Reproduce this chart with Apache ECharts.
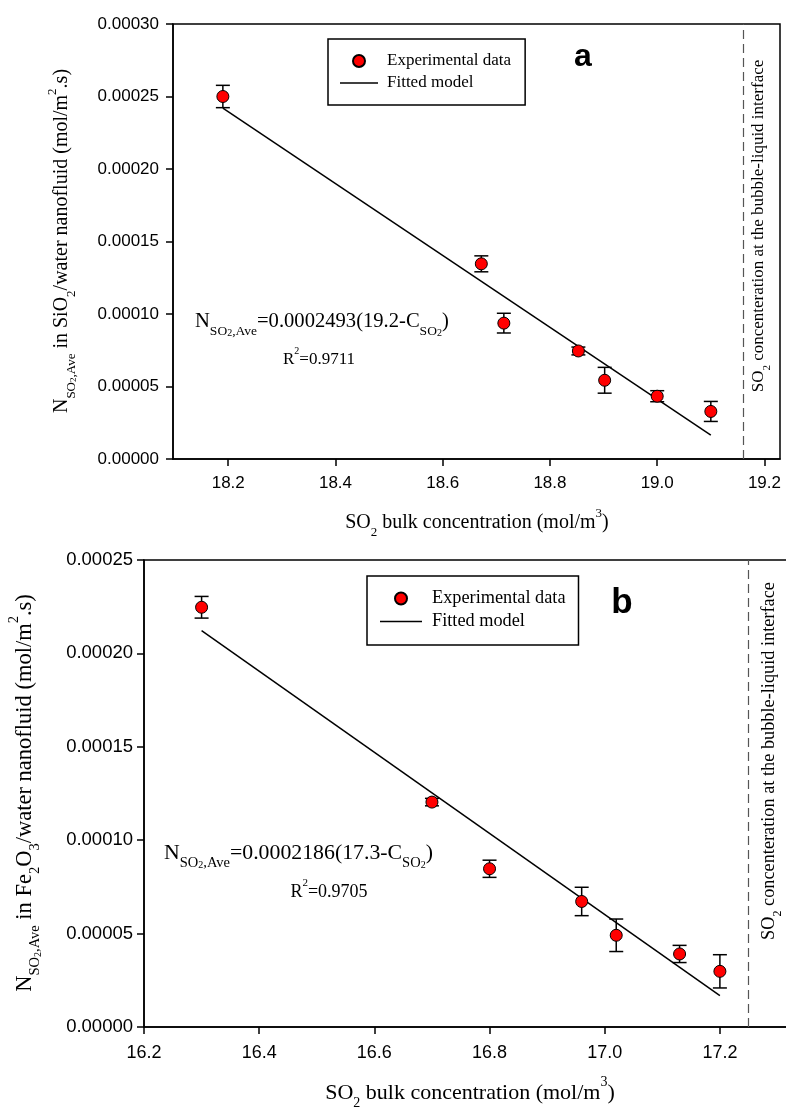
<!DOCTYPE html>
<html><head><meta charset="utf-8">
<script src="https://cdn.jsdelivr.net/npm/echarts@6/dist/echarts.min.js"></script>
<style>html,body{margin:0;padding:0;background:#fff}#c{width:786px;height:1109px}</style>
</head><body><div id="c"></div>
<script>
// ---------- data ----------
const topX   = [18.19, 18.672, 18.714, 18.853, 18.902, 19.0, 19.1];
const topY   = [0.000250, 0.0001346, 0.0000937, 0.0000745, 0.0000543, 0.0000433, 0.0000328];
const topErr = [0.0000077, 0.0000055, 0.0000068, 0.0000027, 0.0000089, 0.0000038, 0.0000069];
const topFitX = [18.19, 19.1];
const topFitY = [0.000242, 0.0000165];
const topInterface = 19.163;
const topXTicks = [18.2, 18.4, 18.6, 18.8, 19.0, 19.2];

const botX   = [16.3, 16.7, 16.8, 16.96, 17.02, 17.13, 17.2];
const botY   = [0.0002247, 0.0001204, 0.0000847, 0.0000672, 0.0000491, 0.0000391, 0.0000298];
const botErr = [0.0000058, 0.0000020, 0.0000046, 0.0000076, 0.0000087, 0.0000046, 0.0000089];
const botFitX = [16.3, 17.2];
const botFitY = [0.0002122, 0.0000168];
const botInterface = 17.255;
const botXTicks = [16.2, 16.4, 16.6, 16.8, 17.0, 17.2];

const seriesNames = ['Experimental data', 'Fitted model'];

// ---------- styling ----------
const SERIF = '"Liberation Serif", "Times New Roman", serif';
const SANS = '"Liberation Sans", Arial, sans-serif';
const NCOL = '#3d1a1a';

function rich(size, subSize) {
  const L = Math.round(size * 1.6);
  const s2 = Math.round(subSize * 0.72);
  return {
    m:   {fontFamily: SERIF, fontSize: size, lineHeight: L, color: '#000'},
    n:   {fontFamily: SERIF, fontSize: size, lineHeight: L, color: NCOL},
    sub: {fontFamily: SERIF, fontSize: subSize, lineHeight: subSize + 1, verticalAlign: 'bottom', color: '#000'},
    sub2:{fontFamily: SERIF, fontSize: s2, lineHeight: Math.round(s2 * 0.5), verticalAlign: 'bottom', color: '#000'},
    sup: {fontFamily: SERIF, fontSize: subSize, lineHeight: Math.round(subSize * 1.6), verticalAlign: 'top', color: '#000'}
  };
}
function txt(x, y, text, size, subSize, opts) {
  opts = opts || {};
  return {
    type: 'text', x: x, y: y, rotation: opts.rotation || 0, silent: true, z: 100,
    style: {text: text, rich: rich(size, subSize), align: opts.align || 'center', verticalAlign: 'middle'}
  };
}

function errRender(params, api) {
  const x = api.value(0), y = api.value(1), e = api.value(2);
  const hi = api.coord([x, y + e]), lo = api.coord([x, y - e]);
  const w = 7;
  const st = {stroke: '#000', lineWidth: 1.5};
  return {type: 'group', children: [
    {type: 'line', shape: {x1: hi[0], y1: hi[1], x2: lo[0], y2: lo[1]}, style: st},
    {type: 'line', shape: {x1: hi[0] - w, y1: hi[1], x2: hi[0] + w, y2: hi[1]}, style: st},
    {type: 'line', shape: {x1: lo[0] - w, y1: lo[1], x2: lo[0] + w, y2: lo[1]}, style: st}
  ]};
}

function xAxis(gi, min, max, ticks, fs, margin) {
  return {
    type: 'value', gridIndex: gi, min: min, max: max,
    axisLine: {show: true, onZero: false, lineStyle: {color: '#000', width: 1.5}},
    axisTick: {show: true, inside: false, length: 7, customValues: ticks, lineStyle: {color: '#000', width: 1.5}},
    axisLabel: {show: true, customValues: ticks, margin: margin, fontFamily: SANS, fontSize: fs, color: '#000',
      formatter: v => v.toFixed(1)},
    splitLine: {show: false}
  };
}
function yAxis(gi, max, fs, margin) {
  return {
    type: 'value', gridIndex: gi, min: 0, max: max, interval: 0.00005,
    axisLine: {show: true, lineStyle: {color: '#000', width: 1.5}},
    axisTick: {show: true, inside: false, length: 7, lineStyle: {color: '#000', width: 1.5}},
    axisLabel: {show: true, margin: margin, fontFamily: SANS, fontSize: fs, color: '#000',
      formatter: v => v.toFixed(5)},
    splitLine: {show: false}
  };
}

function seriesFor(gi, xs, ys, errs, fx, fy, iface) {
  return [
    {type: 'custom', name: 'err' + gi, xAxisIndex: gi, yAxisIndex: gi, renderItem: errRender,
     data: xs.map((x, i) => [x, ys[i], errs[i]]), encode: {x: 0, y: [1]}, z: 3, silent: true},
    {type: 'line', name: seriesNames[1], xAxisIndex: gi, yAxisIndex: gi, symbol: 'none', z: 2,
     lineStyle: {color: '#000', width: 1.5}, itemStyle: {color: '#000'},
     data: fx.map((x, i) => [x, fy[i]]),
     markLine: {silent: true, symbol: ['none', 'none'], label: {show: false}, animation: false,
       lineStyle: {type: [9, 5], color: '#555', width: 1.2}, data: [{xAxis: iface}]}},
    {type: 'scatter', name: seriesNames[0], xAxisIndex: gi, yAxisIndex: gi, symbol: 'circle', symbolSize: 12, z: 5,
     itemStyle: {color: '#ff0000', borderColor: '#000', borderWidth: 1, opacity: 1},
     data: xs.map((x, i) => [x, ys[i]])}
  ];
}

const LINE_ICON = 'path://M0,0H40V1.5H0Z';
function legendData() {
  return [{name: seriesNames[0]}, {name: seriesNames[1], icon: LINE_ICON, itemStyle: {color: '#000'}}];
}

const chart = echarts.init(document.getElementById('c'), null, {renderer: 'canvas'});
chart.setOption({
  backgroundColor: '#fff',
  animation: false,
  grid: [
    {left: 173, top: 24, width: 607, height: 435, show: true, borderColor: '#000', borderWidth: 1.5, containLabel: false, outerBoundsMode: 'none'},
    {left: 144, top: 560, width: 645, height: 467, show: true, borderColor: '#000', borderWidth: 1.5, containLabel: false, outerBoundsMode: 'none'}
  ],
  xAxis: [
    xAxis(0, 18.097, 19.229, topXTicks, 17, 16),
    xAxis(1, 16.2, 17.32, botXTicks, 18, 17)
  ],
  yAxis: [
    yAxis(0, 0.0003, 17, 14),
    yAxis(1, 0.00025, 18.5, 11)
  ],
  legend: [
    {left: 328, top: 39, orient: 'vertical', borderColor: '#000', borderWidth: 1.5, padding: [12, 14, 12, 12],
     itemWidth: 38, itemHeight: 12, itemGap: 2, selectedMode: false,
     textStyle: {fontFamily: SERIF, fontSize: 17, color: '#000', lineHeight: 20, padding: [0, 0, 0, 4]},
     data: legendData()},
    {left: 367, top: 576, orient: 'vertical', borderColor: '#000', borderWidth: 1.5, padding: [12, 13, 13, 13],
     itemWidth: 42, itemHeight: 12, itemGap: 2, selectedMode: false,
     textStyle: {fontFamily: SERIF, fontSize: 18.3, color: '#000', lineHeight: 21, padding: [0, 0, 0, 5]},
     data: legendData()}
  ],
  series: [].concat(
    seriesFor(0, topX, topY, topErr, topFitX, topFitY, topInterface),
    seriesFor(1, botX, botY, botErr, botFitX, botFitY, botInterface)
  ),
  graphic: [
    // top chart
    txt(477, 523, '{m|SO}{sub|2}{m| bulk concentration (mol/m}{sup|3}{m|)}', 20, 13),
    txt(62, 241, '{n|N}{sub|SO}{sub2|2}{sub|,Ave}{m| in SiO}{sub|2}{m|/water nanofluid (mol/m}{sup|2}{m|.s)}', 20, 13, {rotation: Math.PI / 2}),
    txt(195, 322, '{n|N}{sub|SO}{sub2|2}{sub|,Ave}{m|=0.0002493(19.2-C}{sub|SO}{sub2|2}{m|)}', 20.6, 13.5, {align: 'left'}),
    txt(319, 360, '{m|R}{sup|2}{m|=0.9711}', 17, 10),
    txt(759, 226, '{m|SO}{sub|2}{m| concenteration at the bubble-liquid interface}', 17, 11, {rotation: Math.PI / 2}),
    {type: 'text', x: 583, y: 57, silent: true, z: 100,
     style: {text: 'a', fontFamily: SANS, fontWeight: 'bold', fontSize: 32, fill: '#000', align: 'center', verticalAlign: 'middle'}},
    // bottom chart
    txt(470, 1093, '{m|SO}{sub|2}{m| bulk concentration (mol/m}{sup|3}{m|)}', 22, 14),
    txt(25, 793, '{n|N}{sub|SO}{sub2|2}{sub|,Ave}{m| in Fe}{sub|2}{m|O}{sub|3}{m|/water nanofluid (mol/m}{sup|2}{m|.s)}', 22.5, 14.5, {rotation: Math.PI / 2}),
    txt(164, 853, '{n|N}{sub|SO}{sub2|2}{sub|,Ave}{m|=0.0002186(17.3-C}{sub|SO}{sub2|2}{m|)}', 21.8, 14.5, {align: 'left'}),
    txt(329, 892, '{m|R}{sup|2}{m|=0.9705}', 18, 11),
    txt(769, 761, '{m|SO}{sub|2}{m| concenteration at the bubble-liquid interface}', 18.3, 12, {rotation: Math.PI / 2}),
    {type: 'text', x: 622, y: 603, silent: true, z: 100,
     style: {text: 'b', fontFamily: SANS, fontWeight: 'bold', fontSize: 35, fill: '#000', align: 'center', verticalAlign: 'middle'}}
  ]
});
</script>
</body></html>
